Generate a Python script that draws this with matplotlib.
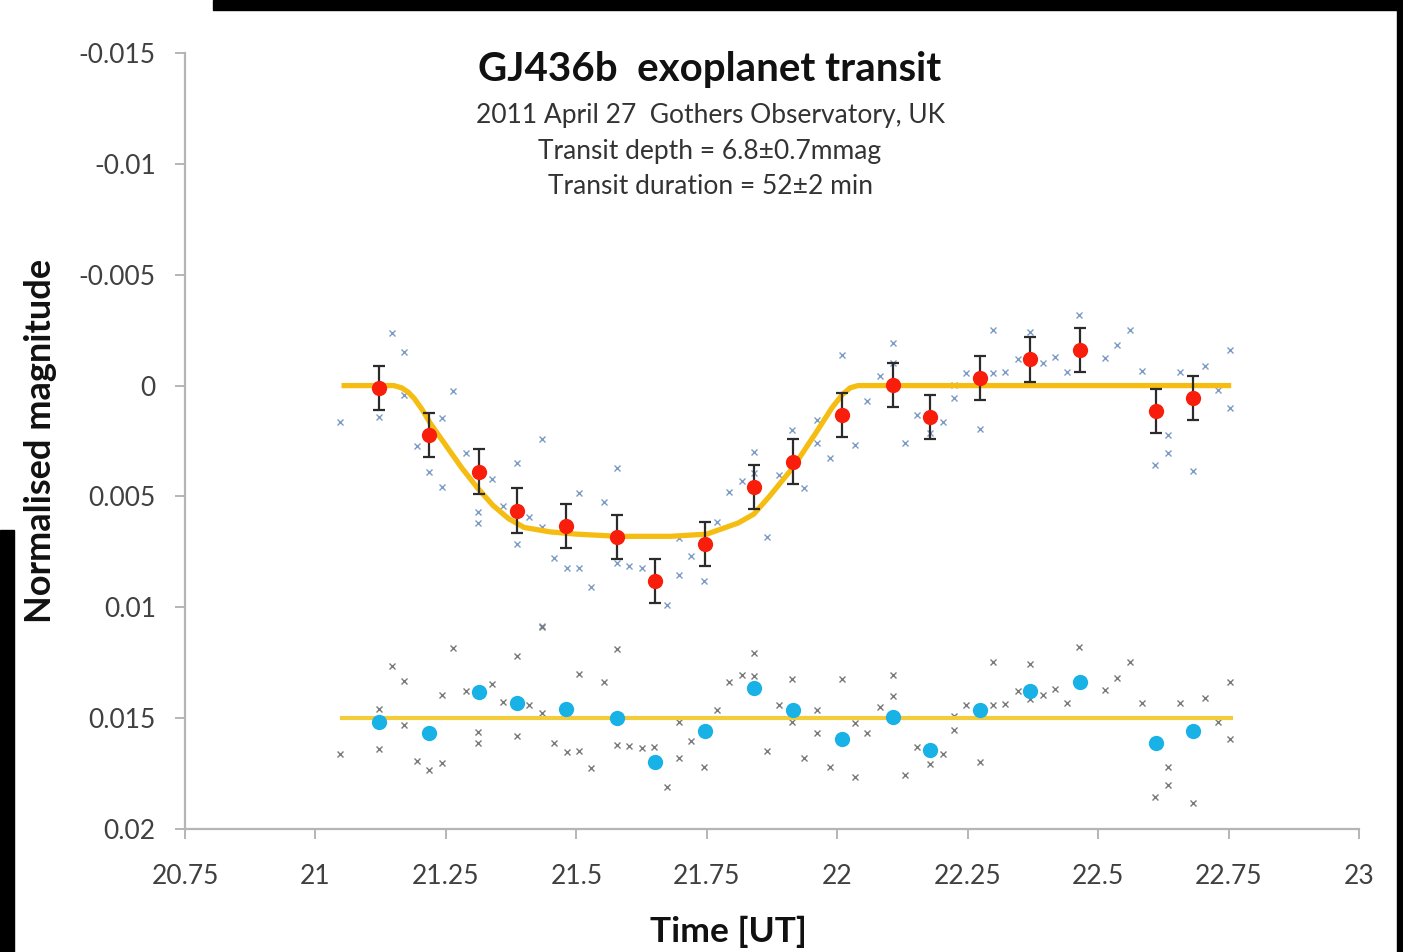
import matplotlib
matplotlib.use("Agg")
import matplotlib.pyplot as plt
from matplotlib.patches import Rectangle

plt.rcParams['font.family'] = ['Lato', 'DejaVu Sans']

# ---------------- data ----------------
# binned points (time in UT hours)
bin_t = [21.122, 21.218, 21.314, 21.386, 21.481, 21.577, 21.651, 21.747, 21.841,
         21.915, 22.010, 22.107, 22.178, 22.273, 22.369, 22.465, 22.611, 22.682]
target_mag = [0.00012, 0.00223, 0.00388, 0.00564, 0.00632, 0.00684, 0.00881, 0.00715, 0.00456,
              0.00343, 0.00133, -0.00003, 0.00143, -0.00033, -0.00118, -0.00160, 0.00115, 0.00057]
target_err = [0.001] * 18
check_mag = [0.01516, 0.01566, 0.01381, 0.01433, 0.01460, 0.01501, 0.01696, 0.01557, 0.01365,
             0.01463, 0.01594, 0.01497, 0.01644, 0.01463, 0.01376, 0.01336, 0.01614, 0.01557]

# individual target measurements
raw_t = [21.048, 21.122, 21.146, 21.170, 21.170, 21.194, 21.218, 21.242, 21.242, 21.264,
         21.288, 21.312, 21.312, 21.338, 21.359, 21.386, 21.386, 21.409, 21.434, 21.434,
         21.434, 21.458, 21.482, 21.505, 21.505, 21.529, 21.553, 21.577, 21.577, 21.601,
         21.625, 21.673, 21.697, 21.697, 21.720, 21.745, 21.769, 21.793, 21.817, 21.841,
         21.841, 21.865, 21.889, 21.913, 21.937, 21.961, 21.961, 21.986, 22.010, 22.034,
         22.057, 22.082, 22.106, 22.106, 22.130, 22.152, 22.177, 22.202, 22.224, 22.224,
         22.247, 22.274, 22.298, 22.298, 22.321, 22.346, 22.369, 22.394, 22.417, 22.441,
         22.464, 22.513, 22.537, 22.561, 22.585, 22.609, 22.634, 22.634, 22.657, 22.681,
         22.705, 22.729, 22.753, 22.753]
raw_mag = [0.00163, 0.00140, -0.00236, -0.00153, 0.00043, 0.00271, 0.00388, 0.00148, 0.00456, 0.00024,
           0.00305, 0.00569, 0.00618, 0.00423, 0.00543, 0.00351, 0.00715, 0.00591, 0.00242, 0.00639,
           0.01084, 0.00779, 0.00824, 0.00824, 0.00483, 0.00907, 0.00524, 0.00373, 0.00802, 0.00814,
           0.00821, 0.00990, 0.00689, 0.00854, 0.00769, 0.00881, 0.00614, 0.00479, 0.00429, 0.00298,
           0.00396, 0.00682, 0.00403, 0.00200, 0.00463, 0.00155, 0.00258, 0.00328, -0.00138, 0.00268,
           0.00068, -0.00043, -0.00191, -0.00103, 0.00258, 0.00133, 0.00213, 0.00163, -0.00003, 0.00057,
           -0.00058, 0.00197, -0.00251, -0.00058, -0.00063, -0.00118, -0.00243, -0.00100, -0.00128, -0.00063,
           -0.00318, -0.00123, -0.00183, -0.00251, -0.00066, 0.00358, 0.00223, 0.00305, -0.00063, 0.00385,
           -0.00090, 0.00020, -0.00160, 0.00100]

# individual check-star measurements
chk_t = [21.048, 21.122, 21.122, 21.146, 21.170, 21.170, 21.194, 21.218, 21.242, 21.242,
         21.264, 21.288, 21.312, 21.312, 21.338, 21.359, 21.386, 21.386, 21.409, 21.434,
         21.434, 21.458, 21.482, 21.505, 21.505, 21.529, 21.553, 21.577, 21.577, 21.601,
         21.625, 21.649, 21.673, 21.697, 21.697, 21.720, 21.745, 21.769, 21.793, 21.817,
         21.841, 21.841, 21.865, 21.889, 21.913, 21.913, 21.937, 21.961, 21.961, 21.986,
         22.010, 22.034, 22.034, 22.057, 22.082, 22.106, 22.106, 22.130, 22.152, 22.177,
         22.202, 22.224, 22.224, 22.247, 22.274, 22.298, 22.298, 22.321, 22.346, 22.369,
         22.369, 22.394, 22.417, 22.441, 22.464, 22.513, 22.537, 22.561, 22.585, 22.609,
         22.634, 22.634, 22.657, 22.681, 22.705, 22.729, 22.753, 22.753]
chk_mag = [0.01663, 0.01639, 0.01460, 0.01263, 0.01331, 0.01531, 0.01692, 0.01734, 0.01704, 0.01396,
           0.01185, 0.01376, 0.01564, 0.01613, 0.01347, 0.01429, 0.01220, 0.01579, 0.01441, 0.01088,
           0.01478, 0.01613, 0.01654, 0.01647, 0.01301, 0.01726, 0.01338, 0.01188, 0.01621, 0.01626,
           0.01633, 0.01629, 0.01809, 0.01681, 0.01516, 0.01602, 0.01722, 0.01463, 0.01338, 0.01305,
           0.01208, 0.01310, 0.01647, 0.01441, 0.01323, 0.01516, 0.01678, 0.01463, 0.01566, 0.01719,
           0.01325, 0.01764, 0.01523, 0.01568, 0.01451, 0.01305, 0.01399, 0.01756, 0.01629, 0.01708,
           0.01663, 0.01490, 0.01553, 0.01441, 0.01696, 0.01245, 0.01441, 0.01438, 0.01376, 0.01256,
           0.01415, 0.01396, 0.01369, 0.01433, 0.01178, 0.01373, 0.01318, 0.01245, 0.01433, 0.01857,
           0.01719, 0.01802, 0.01433, 0.01884, 0.01408, 0.01516, 0.01336, 0.01595]

# transit model curve
model_t = [21.05, 21.15, 21.165, 21.178, 21.19, 21.205, 21.22, 21.25, 21.28, 21.31, 21.34, 21.37,
           21.40, 21.45, 21.50, 21.58, 21.68, 21.75, 21.81, 21.84, 21.87, 21.915, 21.96, 21.99,
           22.01, 22.025, 22.04, 22.755]
model_mag = [0.0, 0.0, 0.0001, 0.0003, 0.0006, 0.0011, 0.0017, 0.0027, 0.0037, 0.0046, 0.0054, 0.0060,
             0.0064, 0.0066, 0.0067, 0.0068, 0.0068, 0.0067, 0.0062, 0.0058, 0.0050, 0.0037, 0.0021, 0.0010,
             0.0004, 0.0001, 0.0, 0.0]
check_line_t = [21.05, 22.755]
check_line_mag = [0.015, 0.015]

x_ticks = [20.75, 21, 21.25, 21.5, 21.75, 22, 22.25, 22.5, 22.75, 23]
x_ticklabels = ["20.75", "21", "21.25", "21.5", "21.75", "22", "22.25", "22.5", "22.75", "23"]
y_ticks = [-0.015, -0.01, -0.005, 0, 0.005, 0.01, 0.015, 0.02]
y_ticklabels = ["-0.015", "-0.01", "-0.005", "0", "0.005", "0.01", "0.015", "0.02"]

title = "GJ436b  exoplanet transit"
subtitle = ["2011 April 27  Gothers Observatory, UK",
            "Transit depth = 6.8\u00b10.7mmag",
            "Transit duration = 52\u00b12 min"]

# ---------------- figure ----------------
W, H = 1403, 952
fig = plt.figure(figsize=(W / 100, H / 100), dpi=100)
ax = fig.add_axes([185 / W, 1 - 829 / H, (1359 - 185) / W, (829 - 53) / H])

ax.plot(raw_t, raw_mag, 'x', color='#7d9cc4', ms=5, mew=1.0, zorder=2)
ax.plot(chk_t, chk_mag, 'x', color='#7a7a7a', ms=5, mew=1.0, zorder=2)

ax.plot(model_t, model_mag, '-', color='#f5bd12', lw=3.8, solid_capstyle='butt',
        solid_joinstyle='round', zorder=3)
ax.plot(check_line_t, check_line_mag, '-', color='#f3cc3c', lw=3.0, zorder=3)

ax.errorbar(bin_t, target_mag, yerr=target_err, fmt='none', ecolor='#2b2b2b',
            elinewidth=1.6, capsize=4.5, capthick=1.6, zorder=4)
ax.plot(bin_t, target_mag, 'o', color='#f91d0c', ms=11, mec='none', zorder=5)
ax.plot(bin_t, check_mag, 'o', color='#18b2e6', ms=11, mec='none', zorder=5)

ax.set_xlim(20.75, 23)
ax.set_ylim(0.02, -0.015)
ax.set_xticks(x_ticks)
ax.set_xticklabels(x_ticklabels)
ax.set_yticks(y_ticks)
ax.set_yticklabels(y_ticklabels)

for s in ['top', 'right']:
    ax.spines[s].set_visible(False)
for s in ['left', 'bottom']:
    ax.spines[s].set_color('#b5b5b5')
    ax.spines[s].set_linewidth(1.6)
ax.tick_params(axis='both', colors='#b5b5b5', width=1.4, length=7, direction='out',
               labelcolor='#404040', labelsize=19)
ax.tick_params(axis='x', pad=18)
ax.tick_params(axis='y', pad=14)

ax.set_ylabel("Normalised magnitude", fontsize=26, fontweight='bold', color='#111111')
ax.yaxis.set_label_coords((41 - 185) / (1359 - 185), 0.5)
ax.set_xlabel("Time [UT]", fontsize=25.5, fontweight='bold', color='#111111')
ax.xaxis.set_label_coords((728 - 185) / (1359 - 185), -(932 - 829) / (829 - 53))
ax.xaxis.label.set_va('center')
ax.yaxis.label.set_va('center')

fig.text(710 / W, 1 - 70 / H, title, ha='center', va='center', fontsize=29,
         fontweight='bold', color='#111111')
for line, yy in zip(subtitle, [115, 151, 187]):
    fig.text(710 / W, 1 - yy / H, line, ha='center', va='center', fontsize=19, color='#333333')

# black screenshot borders
fig.patches.append(Rectangle((213 / W, 1 - 10 / H), (W - 213) / W, 10 / H,
                             transform=fig.transFigure, color='black', zorder=10))
fig.patches.append(Rectangle((1397 / W, 0), 6 / W, 1,
                             transform=fig.transFigure, color='black', zorder=10))
fig.patches.append(Rectangle((0, 0), 14 / W, (H - 530) / H,
                             transform=fig.transFigure, color='black', zorder=10))

fig.savefig("out.png", dpi=100, facecolor='white')
